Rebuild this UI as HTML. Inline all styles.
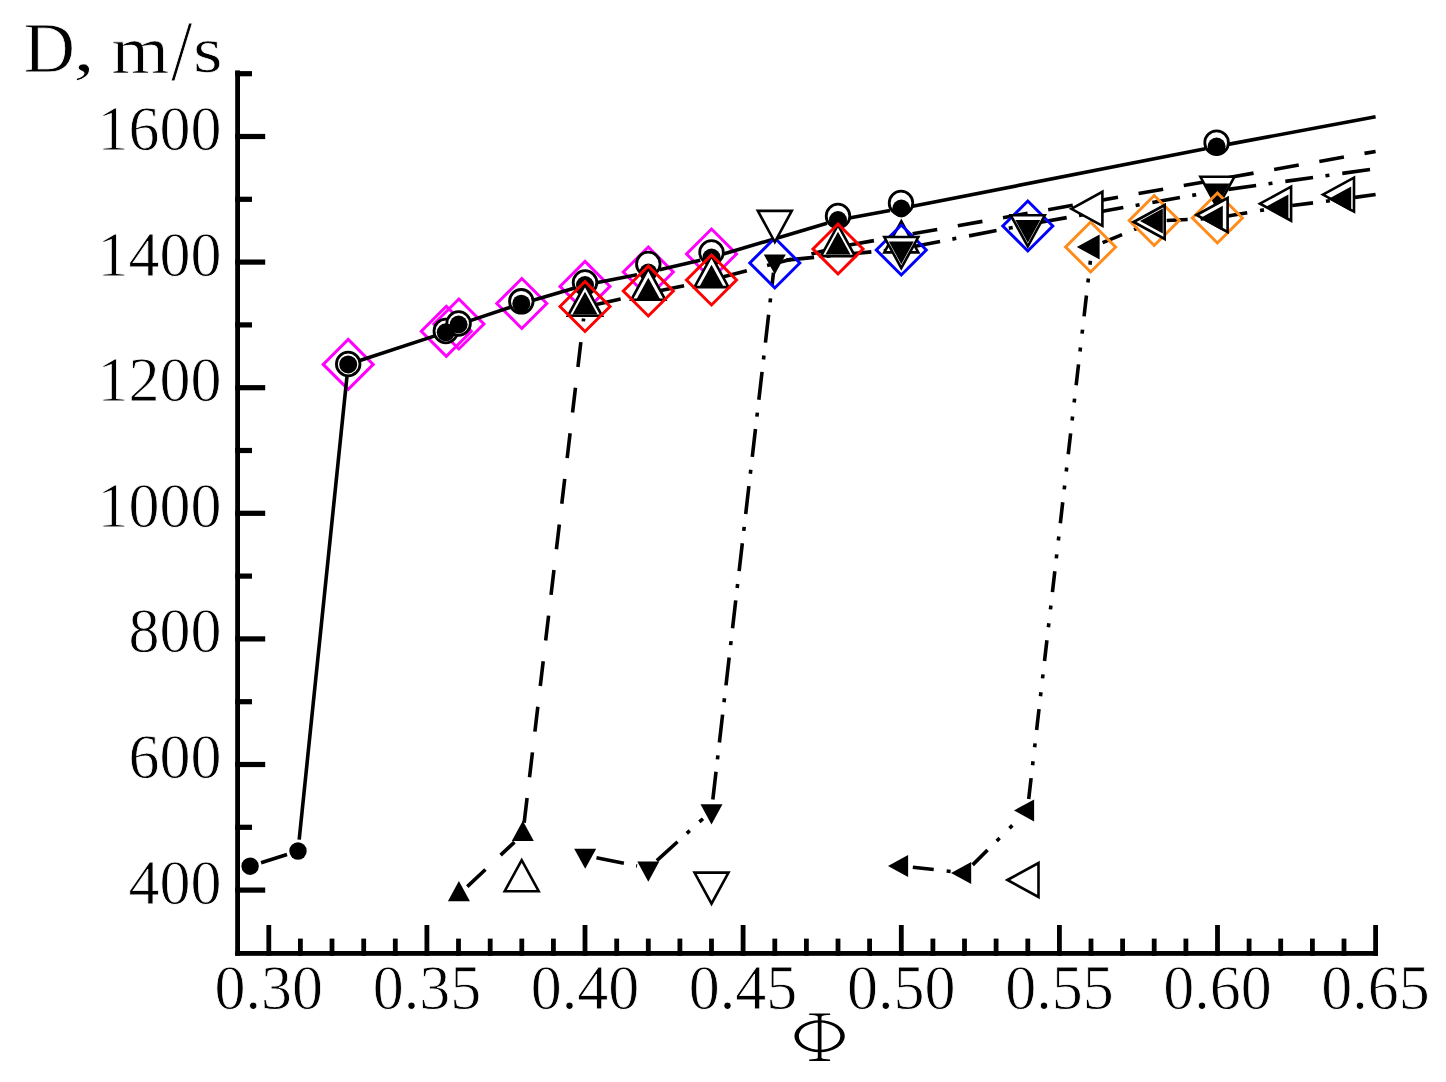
<!DOCTYPE html>
<html><head><meta charset="utf-8"><style>
html,body{margin:0;padding:0;background:#fff;width:1446px;height:1082px;overflow:hidden}
svg{display:block}
.tl{font-family:"Liberation Serif",serif;font-size:62px}
.g{font-family:"Liberation Serif",serif;font-size:100px}
text{stroke:#fff;stroke-width:0.8px}
.g{stroke-width:1.1px}
</style></head><body>
<div id="w"><svg width="1446" height="1082" viewBox="0 0 1446 1082">
<rect width="1446" height="1082" fill="#fff"/>
<g fill="#000"><rect x="235.2" y="70.4" width="4.8" height="885.4"/><rect x="235.2" y="951.0" width="1142.8" height="4.8"/><rect x="266.4" y="925.0" width="4.8" height="30.8"/><rect x="298.0" y="938.6" width="4.8" height="17.2"/><rect x="329.6" y="938.6" width="4.8" height="17.2"/><rect x="361.3" y="938.6" width="4.8" height="17.2"/><rect x="392.9" y="938.6" width="4.8" height="17.2"/><rect x="424.5" y="925.0" width="4.8" height="30.8"/><rect x="456.1" y="938.6" width="4.8" height="17.2"/><rect x="487.8" y="938.6" width="4.8" height="17.2"/><rect x="519.4" y="938.6" width="4.8" height="17.2"/><rect x="551.0" y="938.6" width="4.8" height="17.2"/><rect x="582.6" y="925.0" width="4.8" height="30.8"/><rect x="614.3" y="938.6" width="4.8" height="17.2"/><rect x="645.9" y="938.6" width="4.8" height="17.2"/><rect x="677.5" y="938.6" width="4.8" height="17.2"/><rect x="709.1" y="938.6" width="4.8" height="17.2"/><rect x="740.7" y="925.0" width="4.8" height="30.8"/><rect x="772.4" y="938.6" width="4.8" height="17.2"/><rect x="804.0" y="938.6" width="4.8" height="17.2"/><rect x="835.6" y="938.6" width="4.8" height="17.2"/><rect x="867.2" y="938.6" width="4.8" height="17.2"/><rect x="898.9" y="925.0" width="4.8" height="30.8"/><rect x="930.5" y="938.6" width="4.8" height="17.2"/><rect x="962.1" y="938.6" width="4.8" height="17.2"/><rect x="993.7" y="938.6" width="4.8" height="17.2"/><rect x="1025.4" y="938.6" width="4.8" height="17.2"/><rect x="1057.0" y="925.0" width="4.8" height="30.8"/><rect x="1088.6" y="938.6" width="4.8" height="17.2"/><rect x="1120.2" y="938.6" width="4.8" height="17.2"/><rect x="1151.8" y="938.6" width="4.8" height="17.2"/><rect x="1183.5" y="938.6" width="4.8" height="17.2"/><rect x="1215.1" y="925.0" width="4.8" height="30.8"/><rect x="1246.7" y="938.6" width="4.8" height="17.2"/><rect x="1278.3" y="938.6" width="4.8" height="17.2"/><rect x="1310.0" y="938.6" width="4.8" height="17.2"/><rect x="1341.6" y="938.6" width="4.8" height="17.2"/><rect x="1373.2" y="925.0" width="4.8" height="30.8"/><rect x="235.2" y="887.5" width="30.0" height="5.2"/><rect x="235.2" y="824.7" width="16.8" height="5.2"/><rect x="235.2" y="761.9" width="30.0" height="5.2"/><rect x="235.2" y="699.1" width="16.8" height="5.2"/><rect x="235.2" y="636.3" width="30.0" height="5.2"/><rect x="235.2" y="573.5" width="16.8" height="5.2"/><rect x="235.2" y="510.7" width="30.0" height="5.2"/><rect x="235.2" y="447.9" width="16.8" height="5.2"/><rect x="235.2" y="385.1" width="30.0" height="5.2"/><rect x="235.2" y="322.3" width="16.8" height="5.2"/><rect x="235.2" y="259.5" width="30.0" height="5.2"/><rect x="235.2" y="196.7" width="16.8" height="5.2"/><rect x="235.2" y="133.9" width="30.0" height="5.2"/><rect x="235.2" y="71.1" width="16.8" height="5.2"/></g>
<g fill="#000"><polygon points="348.2,339.4 373.2,364.4 348.2,389.4 323.2,364.4" fill="none" stroke="#ff00ff" stroke-width="3"/><polygon points="446.3,306.3 471.3,331.3 446.3,356.3 421.3,331.3" fill="none" stroke="#ff00ff" stroke-width="3"/><polygon points="458.9,299.0 483.9,324.0 458.9,349.0 433.9,324.0" fill="none" stroke="#ff00ff" stroke-width="3"/><polygon points="521.8,278.5 546.8,303.5 521.8,328.5 496.8,303.5" fill="none" stroke="#ff00ff" stroke-width="3"/><polygon points="585.0,261.4 610.0,286.4 585.0,311.4 560.0,286.4" fill="none" stroke="#ff00ff" stroke-width="3"/><polygon points="648.3,247.0 673.3,272.0 648.3,297.0 623.3,272.0" fill="none" stroke="#ff00ff" stroke-width="3"/><polygon points="711.5,229.0 736.5,254.0 711.5,279.0 686.5,254.0" fill="none" stroke="#ff00ff" stroke-width="3"/><g stroke="#000" stroke-width="3.6" fill="none"><line x1="261.06" y1="862.72" x2="287.04" y2="854.48"/><line x1="299.18" y1="839.56" x2="347.02" y2="375.84"/><line x1="359.12" y1="360.81" x2="434.88" y2="335.89"/><line x1="469.52" y1="320.88" x2="510.38" y2="307.32"/><line x1="532.33" y1="300.46" x2="573.97" y2="288.24"/><line x1="596.28" y1="282.77" x2="637.02" y2="274.73"/><line x1="659.49" y1="269.84" x2="700.31" y2="260.16"/><line x1="722.53" y1="254.23" x2="826.97" y2="223.27"/><line x1="849.31" y1="217.94" x2="889.99" y2="210.56"/><line x1="912.58" y1="206.28" x2="1205.32" y2="148.72"/><line x1="1227.90" y1="144.39" x2="1375.60" y2="116.80"/><line x1="467.26" y1="886.61" x2="514.44" y2="842.09" stroke-dasharray="25 20.9"/><line x1="524.15" y1="822.78" x2="583.65" y2="318.42" stroke-dasharray="25 20.9"/><line x1="596.23" y1="304.52" x2="637.07" y2="295.48" stroke-dasharray="25 20.9"/><line x1="659.56" y1="290.68" x2="700.24" y2="282.32" stroke-dasharray="25 20.9"/><line x1="722.63" y1="277.10" x2="826.87" y2="249.90" stroke-dasharray="25 20.9"/><line x1="849.32" y1="245.00" x2="889.98" y2="237.80" stroke-dasharray="25 20.9"/><line x1="912.62" y1="233.79" x2="1375.60" y2="151.40" stroke-dasharray="25 20.9"/><line x1="596.47" y1="857.70" x2="637.03" y2="866.00" stroke-dasharray="28 12.5 4 13"/><line x1="656.82" y1="860.58" x2="702.98" y2="818.72" stroke-dasharray="28 12.5 4 13"/><line x1="712.82" y1="799.58" x2="773.48" y2="272.62" stroke-dasharray="28 12.5 4 13"/><line x1="786.25" y1="260.10" x2="889.85" y2="250.10" stroke-dasharray="28 12.5 4 13"/><line x1="912.59" y1="246.81" x2="1016.51" y2="226.69" stroke-dasharray="28 12.5 4 13"/><line x1="1039.12" y1="222.49" x2="1205.68" y2="193.01" stroke-dasharray="28 12.5 4 13"/><line x1="1228.39" y1="189.40" x2="1375.60" y2="168.70" stroke-dasharray="28 12.5 4 13"/><line x1="912.83" y1="867.27" x2="953.07" y2="871.73" stroke-dasharray="21 13 4 14 4 13.4"/><line x1="972.65" y1="864.89" x2="1019.25" y2="818.51" stroke-dasharray="21 13 4 14 4 13.4"/><line x1="1028.71" y1="798.97" x2="1090.69" y2="258.43" stroke-dasharray="21 13 4 14 4 13.4"/><line x1="1102.64" y1="242.62" x2="1144.56" y2="225.38" stroke-dasharray="21 13 4 14 4 13.4"/><line x1="1166.69" y1="220.48" x2="1203.71" y2="218.82" stroke-dasharray="21 13 4 14 4 13.4"/><line x1="1226.53" y1="216.35" x2="1269.47" y2="208.95" stroke-dasharray="21 13 4 14 4 13.4"/><line x1="1292.21" y1="205.55" x2="1332.19" y2="200.45" stroke-dasharray="21 13 4 14 4 13.4"/><line x1="1354.99" y1="197.40" x2="1375.60" y2="194.50" stroke-dasharray="21 13 4 14 4 13.4"/></g><circle cx="348.2" cy="364.0" r="11.8" fill="#fff" stroke="#000" stroke-width="2.8"/><circle cx="445.8" cy="331.0" r="11.8" fill="#fff" stroke="#000" stroke-width="2.8"/><circle cx="458.6" cy="323.5" r="11.8" fill="#fff" stroke="#000" stroke-width="2.8"/><circle cx="521.3" cy="301.3" r="11.8" fill="#fff" stroke="#000" stroke-width="2.8"/><circle cx="585.0" cy="282.5" r="11.8" fill="#fff" stroke="#000" stroke-width="2.8"/><circle cx="648.3" cy="264.0" r="11.8" fill="#fff" stroke="#000" stroke-width="2.8"/><circle cx="711.5" cy="252.5" r="11.8" fill="#fff" stroke="#000" stroke-width="2.8"/><circle cx="838.0" cy="216.0" r="11.8" fill="#fff" stroke="#000" stroke-width="2.8"/><circle cx="901.0" cy="203.0" r="11.8" fill="#fff" stroke="#000" stroke-width="2.8"/><circle cx="1216.6" cy="142.7" r="11.8" fill="#fff" stroke="#000" stroke-width="2.8"/><circle cx="250.1" cy="866.2" r="8.7"/><circle cx="298.0" cy="851.0" r="8.7"/><circle cx="348.2" cy="364.4" r="9.0"/><circle cx="445.8" cy="332.3" r="9.0"/><circle cx="458.6" cy="324.5" r="9.0"/><circle cx="521.3" cy="303.7" r="9.0"/><circle cx="585.0" cy="285.0" r="9.0"/><circle cx="648.3" cy="272.5" r="9.0"/><circle cx="711.5" cy="257.5" r="9.0"/><circle cx="838.0" cy="220.0" r="9.0"/><circle cx="901.3" cy="208.5" r="9.0"/><circle cx="1216.6" cy="146.5" r="9.0"/><polygon points="521.7,860.1 504.7,891.2 538.7,891.2" fill="#fff" stroke="#000" stroke-width="2.6"/><polygon points="585.0,284.7 568.0,315.8 602.0,315.8" fill="#fff" stroke="#000" stroke-width="2.6"/><polygon points="648.3,268.7 631.3,299.8 665.3,299.8" fill="#fff" stroke="#000" stroke-width="2.6"/><polygon points="711.5,256.0 694.5,287.1 728.5,287.1" fill="#fff" stroke="#000" stroke-width="2.6"/><polygon points="838.0,225.0 821.0,256.1 855.0,256.1" fill="#fff" stroke="#000" stroke-width="2.6"/><polygon points="901.3,221.3 884.3,252.4 918.3,252.4" fill="#fff" stroke="#000" stroke-width="2.6"/><polygon points="458.9,881.1 447.9,901.2 469.9,901.2"/><polygon points="522.8,820.8 511.8,840.9 533.8,840.9"/><polygon points="585.0,291.8 572.5,314.6 597.5,314.6"/><polygon points="648.3,277.8 635.8,300.6 660.8,300.6"/><polygon points="711.5,264.8 699.0,287.6 724.0,287.6"/><polygon points="838.0,231.8 825.5,254.6 850.5,254.6"/><polygon points="585.0,281.5 610.0,306.5 585.0,331.5 560.0,306.5" fill="none" stroke="#ff0000" stroke-width="3"/><polygon points="648.3,266.0 673.3,291.0 648.3,316.0 623.3,291.0" fill="none" stroke="#ff0000" stroke-width="3"/><polygon points="711.5,255.0 736.5,280.0 711.5,305.0 686.5,280.0" fill="none" stroke="#ff0000" stroke-width="3"/><polygon points="838.0,224.0 863.0,249.0 838.0,274.0 813.0,249.0" fill="none" stroke="#ff0000" stroke-width="3"/><polygon points="774.8,238.0 799.8,263.0 774.8,288.0 749.8,263.0" fill="none" stroke="#0000ff" stroke-width="3"/><polygon points="901.3,225.0 926.3,250.0 901.3,275.0 876.3,250.0" fill="none" stroke="#0000ff" stroke-width="3"/><polygon points="1027.8,201.0 1052.8,226.0 1027.8,251.0 1002.8,226.0" fill="none" stroke="#0000ff" stroke-width="3"/><polygon points="711.5,903.7 694.5,872.6 728.5,872.6" fill="#fff" stroke="#000" stroke-width="2.6"/><polygon points="774.8,242.0 757.8,210.9 791.8,210.9" fill="#fff" stroke="#000" stroke-width="2.6"/><polygon points="901.3,268.1 884.3,237.0 918.3,237.0" fill="#fff" stroke="#000" stroke-width="2.6"/><polygon points="1027.8,246.4 1010.8,215.3 1044.8,215.3" fill="#fff" stroke="#000" stroke-width="2.6"/><polygon points="1217.4,207.9 1200.4,176.8 1234.4,176.8" fill="#fff" stroke="#000" stroke-width="2.6"/><polygon points="585.2,868.8 574.2,848.7 596.2,848.7"/><polygon points="648.3,881.7 637.3,861.6 659.3,861.6"/><polygon points="711.5,824.4 700.5,804.3 722.5,804.3"/><polygon points="774.8,274.6 763.8,254.5 785.8,254.5"/><polygon points="901.3,264.2 888.8,241.4 913.8,241.4"/><polygon points="1027.8,242.8 1015.3,219.9 1040.3,219.9"/><polygon points="1217.0,206.2 1204.5,183.4 1229.5,183.4"/><polygon points="1090.6,222.0 1115.6,247.0 1090.6,272.0 1065.6,247.0" fill="none" stroke="#ff8c1a" stroke-width="3"/><polygon points="1154.2,195.5 1179.2,220.5 1154.2,245.5 1129.2,220.5" fill="none" stroke="#ff8c1a" stroke-width="3"/><polygon points="1217.4,193.0 1242.4,218.0 1217.4,243.0 1192.4,218.0" fill="none" stroke="#ff8c1a" stroke-width="3"/><polygon points="1007.4,880.0 1038.5,863.0 1038.5,897.0" fill="#fff" stroke="#000" stroke-width="2.6"/><polygon points="1071.3,208.8 1102.4,191.8 1102.4,225.8" fill="#fff" stroke="#000" stroke-width="2.6"/><polygon points="1133.6,222.0 1164.7,205.0 1164.7,239.0" fill="#fff" stroke="#000" stroke-width="2.6"/><polygon points="1196.5,215.0 1227.6,198.0 1227.6,232.0" fill="#fff" stroke="#000" stroke-width="2.6"/><polygon points="1260.0,203.7 1291.1,186.7 1291.1,220.7" fill="#fff" stroke="#000" stroke-width="2.6"/><polygon points="1322.9,194.6 1354.0,177.6 1354.0,211.6" fill="#fff" stroke="#000" stroke-width="2.6"/><polygon points="888.0,866.0 908.1,855.0 908.1,877.0"/><polygon points="951.1,873.0 971.2,862.0 971.2,884.0"/><polygon points="1014.0,810.4 1034.1,799.4 1034.1,821.4"/><polygon points="1076.8,247.0 1099.6,234.5 1099.6,259.5"/><polygon points="1140.0,221.0 1162.8,208.5 1162.8,233.5"/><polygon points="1200.0,218.3 1222.8,205.8 1222.8,230.8"/><polygon points="1265.5,207.0 1288.4,194.5 1288.4,219.5"/><polygon points="1328.3,199.0 1351.2,186.5 1351.2,211.5"/></g>
<g fill="#000"><text class="tl" text-anchor="end" transform="translate(221.4,903.5) scale(1,1.03)">400</text><text class="tl" text-anchor="end" transform="translate(221.4,777.9) scale(1,1.03)">600</text><text class="tl" text-anchor="end" transform="translate(221.4,652.3) scale(1,1.03)">800</text><text class="tl" text-anchor="end" transform="translate(221.4,526.7) scale(1,1.03)">1000</text><text class="tl" text-anchor="end" transform="translate(221.4,401.1) scale(1,1.03)">1200</text><text class="tl" text-anchor="end" transform="translate(221.4,275.5) scale(1,1.03)">1400</text><text class="tl" text-anchor="end" transform="translate(221.4,149.9) scale(1,1.03)">1600</text><text class="tl" text-anchor="middle" transform="translate(268.8,1009.1) scale(1,1.03)">0.30</text><text class="tl" text-anchor="middle" transform="translate(426.9,1009.1) scale(1,1.03)">0.35</text><text class="tl" text-anchor="middle" transform="translate(585.0,1009.1) scale(1,1.03)">0.40</text><text class="tl" text-anchor="middle" transform="translate(743.1,1009.1) scale(1,1.03)">0.45</text><text class="tl" text-anchor="middle" transform="translate(901.3,1009.1) scale(1,1.03)">0.50</text><text class="tl" text-anchor="middle" transform="translate(1059.4,1009.1) scale(1,1.03)">0.55</text><text class="tl" text-anchor="middle" transform="translate(1217.5,1009.1) scale(1,1.03)">0.60</text><text class="tl" text-anchor="middle" transform="translate(1375.6,1009.1) scale(1,1.03)">0.65</text><text class="g" transform="translate(23.53,72.46) scale(0.7121,0.7093)">D</text><text class="g" transform="translate(73.03,71.13) scale(0.8859,0.6537)">,</text><text class="g" transform="translate(111.54,72.60) scale(0.7409,0.6752)">m</text><text class="g" transform="translate(170.90,80.32) scale(0.7698,0.8774)">/</text><text class="g" transform="translate(192.89,71.94) scale(0.7596,0.6611)">s</text><path fill-rule="evenodd" d="M794.4,1036.2 a25.2,16 0 1,0 50.4,0 a25.2,16 0 1,0 -50.4,0 Z M798.9,1036.2 a20.7,13.6 0 1,0 41.4,0 a20.7,13.6 0 1,0 -41.4,0 Z"/><rect x="817.8" y="1014.2" width="3.7" height="46.2"/><path d="M809.2,1013.4 H830.1 V1015.0 C826,1015.0 823,1015.3 821.5,1016.4 H817.8 C816.3,1015.3 813.3,1015.0 809.2,1015.0 Z"/><path d="M809.2,1061.0 H830.1 V1059.4 C826,1059.4 823,1059.1 821.5,1058.0 H817.8 C816.3,1059.1 813.3,1059.4 809.2,1059.4 Z"/></g>
</svg></div>
</body></html>
